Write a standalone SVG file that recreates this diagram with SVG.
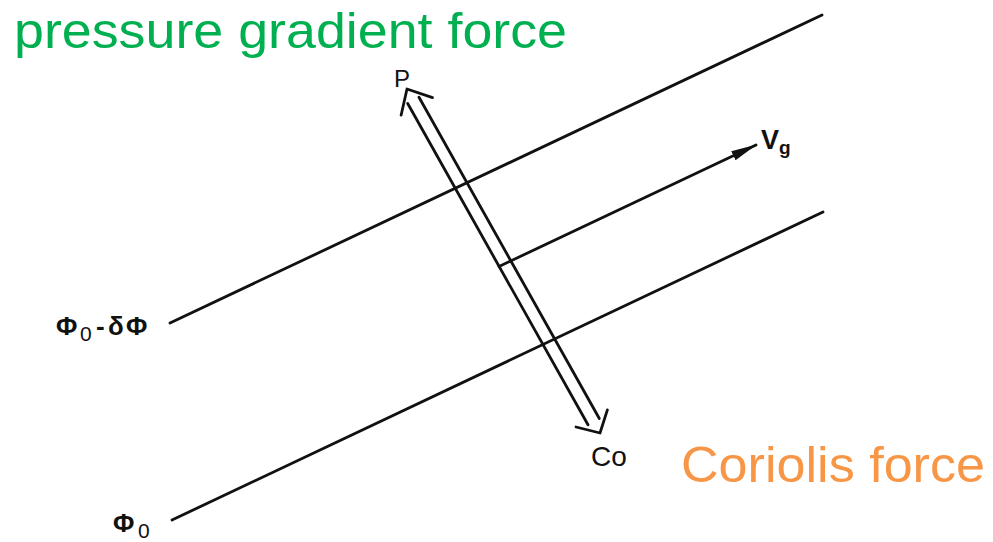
<svg xmlns="http://www.w3.org/2000/svg" width="993" height="542" viewBox="0 0 993 542">
<style>
.ln{stroke:#111;stroke-width:2.8;fill:none;stroke-linecap:round;stroke-linejoin:round}
.lbl{font-family:"Liberation Sans","DejaVu Sans",sans-serif;fill:#111}
.title{font-family:"Liberation Sans",Arial,sans-serif;font-size:50px}
</style>
<defs>
<marker id="ah" markerUnits="userSpaceOnUse" markerWidth="26" markerHeight="12" viewBox="0 0 26 12" refX="25" refY="6" orient="auto">
<path d="M0,1 L26,6 L0,11 Z" fill="#111"/>
</marker>
</defs>
<rect width="993" height="542" fill="#fff"/>
<g id="connectors">
<line id="isobar-upper" class="ln" x1="170" y1="323" x2="822" y2="15"/>
<line id="isobar-lower" class="ln" x1="172" y1="520" x2="823" y2="212"/>
<line id="vg-arrow" class="ln" x1="499" y1="266.5" x2="756" y2="145" marker-end="url(#ah)"/>
</g>
<g id="force-arrow">
<line class="ln" x1="407.7" y1="103.5" x2="588" y2="424.8"/>
<line class="ln" x1="419" y1="97.2" x2="599.3" y2="418.5"/>
<polyline class="ln" points="401.1,115.2 407,89 432.5,97.6"/>
<polyline class="ln" points="576,427 600,433 607.4,409.9"/>
</g>
<g id="label-P"><text class="lbl" x="394" y="87" font-size="24">P</text></g>
<g id="label-Co"><text class="lbl" x="591" y="466" font-size="28">Co</text></g>
<g id="label-Vg"><text class="lbl" x="761" y="149" font-size="27" font-weight="bold">V<tspan font-size="19" dy="5">g</tspan></text></g>
<g id="label-phi0-dphi"><text class="lbl" y="335" font-size="26" font-weight="bold"><tspan x="56">Φ</tspan><tspan x="80" y="341" font-size="21" font-weight="normal">0</tspan><tspan x="96" y="335">-</tspan><tspan x="108">δ</tspan><tspan x="126">Φ</tspan></text></g>
<g id="label-phi0"><text class="lbl" y="532" font-size="26" font-weight="bold"><tspan x="113">Φ</tspan><tspan x="138" y="538" font-size="21" font-weight="normal">0</tspan></text></g>
<g id="title-pgf"><text class="title" x="14" y="48" fill="#00B050" textLength="553" lengthAdjust="spacingAndGlyphs">pressure gradient force</text></g>
<g id="title-cor"><text class="title" x="681" y="482" fill="#F79646" textLength="304" lengthAdjust="spacingAndGlyphs">Coriolis force</text></g>
</svg>
